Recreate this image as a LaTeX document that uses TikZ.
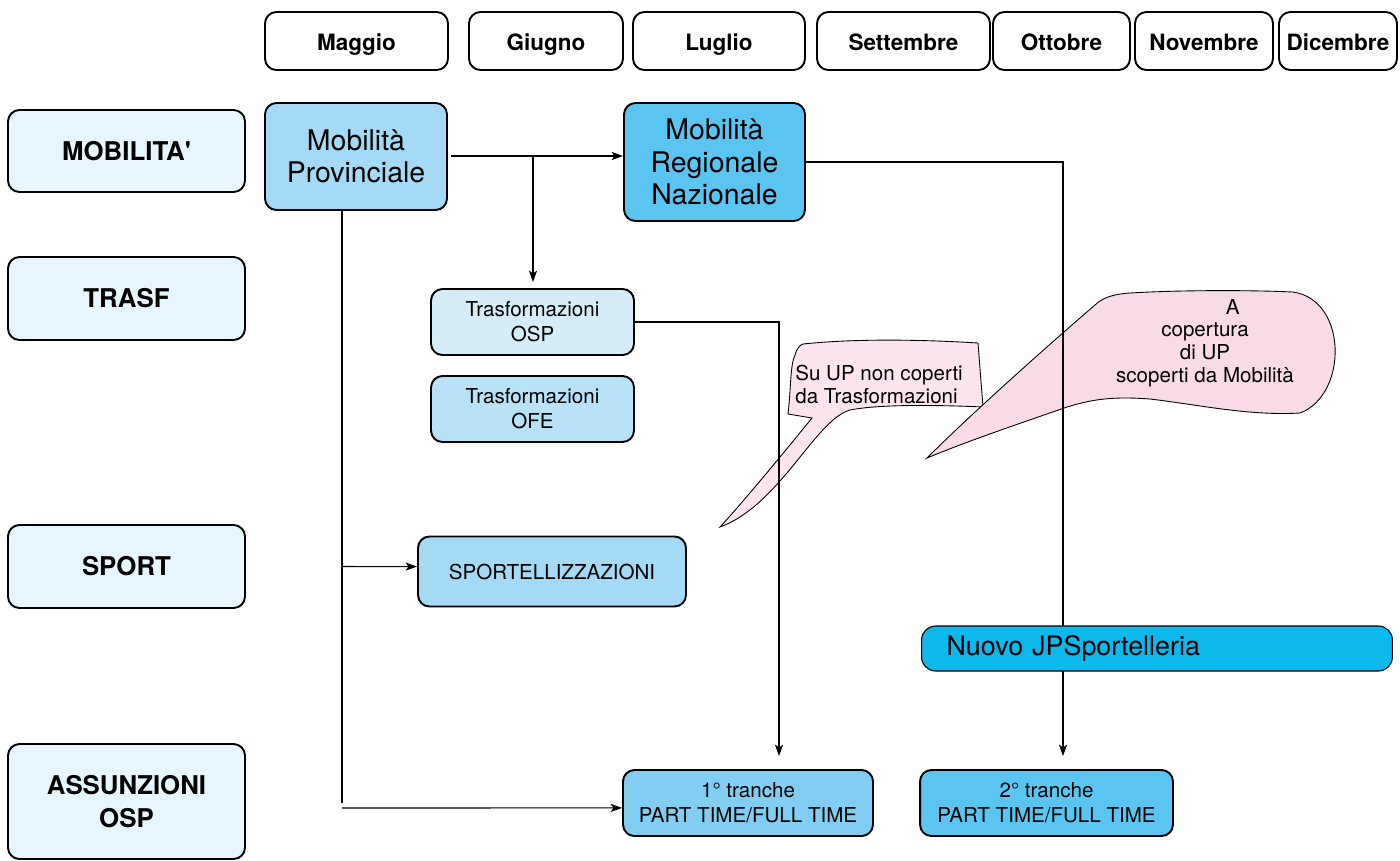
\documentclass[tikz,border=0pt]{standalone}
\usepackage{fontspec}
\setmainfont{TeX Gyre Heros}
\usepackage{tikz}
\usetikzlibrary{shapes.geometric, arrows.meta, positioning}

\definecolor{rowblue}{HTML}{E7F5FD}
\definecolor{provblue}{HTML}{A5DAF6}
\definecolor{regblue}{HTML}{5AC5F1}
\definecolor{ospblue}{HTML}{D5ECF9}
\definecolor{ofeblue}{HTML}{B8E2F8}
\definecolor{trancheblue}{HTML}{82CEF3}
\definecolor{nuovoblue}{HTML}{0DB8EC}
\definecolor{pinklight}{HTML}{FCE5EF}
\definecolor{pinkdark}{HTML}{F9DAE7}

\begin{document}
\begin{tikzpicture}[
    x=0.02cm, y=-0.02cm,
    month/.style={rectangle, rounded corners=6.5pt, draw=black, line width=1.1pt, fill=white, minimum height=1.16cm, inner sep=0pt, text height=1.12em, text depth=0pt, font=\bfseries\fontsize{12.8}{15}\selectfont},
    rowlabel/.style={rectangle, rounded corners=6.5pt, draw=black, line width=1.1pt, fill=rowblue, minimum width=4.74cm, inner sep=0pt, align=center, font=\bfseries\fontsize{14.7}{18.7}\selectfont},
    process/.style={rectangle, rounded corners=6.5pt, draw=black, line width=1.1pt, inner sep=0pt, align=center, font=\fontsize{11.7}{14.2}\selectfont},
    bigprocess/.style={process, font=\fontsize{16.2}{18.5}\selectfont},
    bubble/.style={draw=black, line width=0.5pt},
    bubbletext/.style={inner sep=0pt, font=\fontsize{11.7}{13}\selectfont},
    arrow/.style={-{Stealth[length=6.5pt, width=4.6pt, inset=1.6pt]}, line width=0.6pt},
]
\useasboundingbox (0,0) rectangle (1400,860);

% Months
\node[month, minimum width=3.66cm] (maggio) at (356.5,41) {Maggio};
\node[month, minimum width=3.08cm] (giugno) at (546,41) {Giugno};
\node[month, minimum width=3.44cm] (luglio) at (719,41) {Luglio};
\node[month, minimum width=3.46cm] (settembre) at (903.5,41) {Settembre};
\node[month, minimum width=2.74cm] (ottobre) at (1061.5,41) {Ottobre};
\node[month, minimum width=2.76cm] (novembre) at (1204,41) {Novembre};
\node[month, minimum width=2.36cm] (dicembre) at (1338,41) {Dicembre};

% Rows
\node[rowlabel, minimum height=1.64cm] (mobilita) at (126.5,151) {MOBILITA\textquotesingle};
\node[rowlabel, minimum height=1.66cm] (trasf) at (126.5,298.5) {TRASF};
\node[rowlabel, minimum height=1.66cm] (sportrow) at (126.5,566.5) {SPORT};
\node[rowlabel, minimum height=2.3cm] (assunzioni) at (126.5,801.5) {ASSUNZIONI\\OSP};

% Notes
\draw[bubble, fill=pinklight] (803,344) .. controls (860,338) and (930,340) .. (978,343)
    -- (983,407) .. controls (940,405) and (880,404) .. (850,410)
    .. controls (815,420) and (780,505) .. (720,527)
    .. controls (745,500) and (790,445) .. (812,418)
    -- (788,414) .. controls (791,390) and (790,365) .. (795,355)
    .. controls (797,348) and (800,345) .. (803,344) -- cycle;
\node[bubbletext, anchor=west, align=left] (notetrasf) at (795,384.5) {Su UP non coperti\\da Trasformazioni};

\draw[bubble, fill=pinkdark] (927,458) .. controls (975,410) and (1060,335) .. (1095,305)
    .. controls (1103,297) and (1115,294) .. (1130,293)
    .. controls (1180,290) and (1250,290) .. (1293,292)
    .. controls (1348,300) and (1348,395) .. (1300,413)
    .. controls (1250,416) and (1200,405) .. (1150,399)
    .. controls (1110,396) and (1090,400) .. (1067,407)
    .. controls (1030,420) and (970,440) .. (927,458) -- cycle;
\node[bubbletext, align=center] (notemob) at (1205,343) {\hspace*{2.7em}A\\copertura\\di UP\\scoperti da Mobilità};

% Steps
\node[bigprocess, fill=provblue, minimum width=3.64cm, minimum height=2.14cm] (prov) at (356,156.5) {Mobilità\\Provinciale};
\node[bigprocess, fill=regblue, minimum width=3.62cm, minimum height=2.36cm] (reg) at (714.5,162) {Mobilità\\Regionale\\Nazionale};
\node[process, fill=ospblue, minimum width=4.06cm, minimum height=1.32cm] (trosp) at (532.5,322) {Trasformazioni\\OSP};
\node[process, fill=ofeblue, minimum width=4.06cm, minimum height=1.32cm] (trofe) at (532.5,409) {Trasformazioni\\OFE};
\node[process, fill=provblue, minimum width=5.36cm, minimum height=1.4cm] (sport) at (552,571.5) {SPORTELLIZZAZIONI};
\node[process, fill=trancheblue, minimum width=5cm, minimum height=1.32cm] (tranche1) at (748,803) {1° tranche\\PART TIME/FULL TIME};
\node[process, fill=regblue, minimum width=5.06cm, minimum height=1.32cm] (tranche2) at (1046.5,803) {2° tranche\\PART TIME/FULL TIME};

% Connectors
\coordinate (split) at (533,156);
\draw[arrow, shorten <=2pt] (prov.east |- split) -- (reg.west |- split);
\draw[arrow, shorten >=3.4pt] (split) -- (split |- trosp.north);
\draw[line width=0.6pt] (342,0 |- prov.south) -- (342,0 |- tranche1.west);
\draw[arrow] (342,0 |- sport.west) ++(0,-5) -- ([yshift=2.8pt]sport.west);
\draw[arrow] (342,0 |- tranche1.west) ++(0,5) -- ([yshift=-2.8pt]tranche1.west);
\draw[arrow, shorten >=7.4pt] (trosp.east) -| (779,0 |- tranche1.north);
\draw[arrow, shorten >=7.4pt] (reg.east) -| (1063,0 |- tranche2.north);

% New profile
\node[rectangle, rounded corners=8pt, draw=black, line width=0.6pt, fill=nuovoblue, anchor=west, minimum height=0.9cm, text width=8.42cm, inner xsep=0.5cm, inner ysep=0pt, align=left, font=\fontsize{15.3}{18}\selectfont] (nuovo) at (921,648.5) {Nuovo JPSportelleria};

\end{tikzpicture}
\end{document}
